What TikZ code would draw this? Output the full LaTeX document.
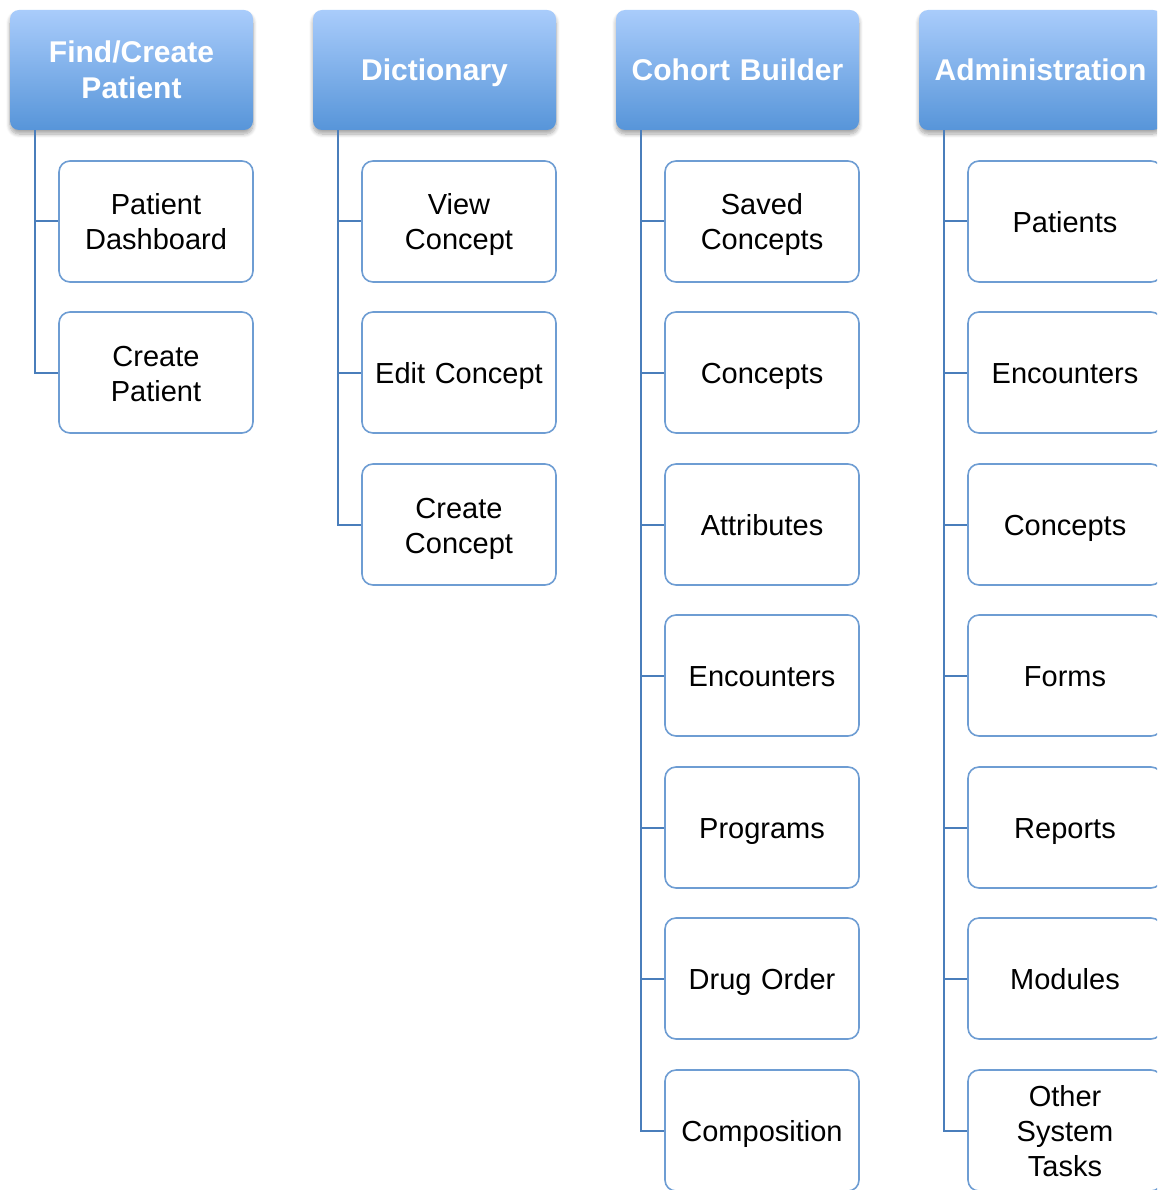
\documentclass[tikz,border=0pt]{standalone}
\usepackage{fontspec}
\setmainfont{Liberation Sans}
\usetikzlibrary{shadows.blur}
\definecolor{hTop}{HTML}{A9CCFB}
\definecolor{hBot}{HTML}{5795D9}
\definecolor{cBorder}{HTML}{6E9DD3}
\definecolor{cLine}{HTML}{4A7EBB}
\newcommand{\mystrut}{\rule[-6.5pt]{0pt}{35pt}}
\tikzset{
  header/.style={rounded corners=9pt, top color=hTop, bottom color=hBot, draw=none,
    minimum width=243pt, minimum height=120pt, inner sep=0pt, text width=236pt, align=center,
    text=white, font=\fontsize{30}{36}\selectfont\bfseries,
    execute at begin node=\mystrut, execute at end node=\mystrut,
    blur shadow={shadow xshift=0pt, shadow yshift=-4pt, shadow opacity=35, shadow blur steps=8, shadow blur radius=4pt}},
  child/.style={rounded corners=11pt, draw=cBorder, line width=1.6pt, fill=white,
    minimum width=194pt, minimum height=121pt, inner sep=0pt, text width=190pt, align=center,
    font=\fontsize{29}{35}\selectfont,
    execute at begin node=\mystrut, execute at end node=\mystrut},
  conn/.style={draw=cLine, line width=2pt}
}
\begin{document}
\begin{tikzpicture}[x=1pt,y=-1pt]
\useasboundingbox (0,0) rectangle (1157,1190);
\clip (0,0) rectangle (1157,1190);
% headers
\node[header] (h1) at (131.5,70) {Find/Create\\Patient};
\node[header] (h2) at (434.5,70) {Dictionary};
\node[header] (h3) at (737.5,70) {Cohort Builder};
\node[header] (h4) at (1040.5,70) {Administration};
% column 1
\node[child] (a1) at (156,221.5) {Patient\\Dashboard};
\node[child] (a2) at (156,372.5) {Create\\Patient};
% column 2
\node[child] (b1) at (459,221.5) {View\\Concept};
\node[child] (b2) at (459,372.5) {Edit Concept};
\node[child] (b3) at (459,524.5) {Create\\Concept};
% column 3
\node[child] (c1) at (762,221.5) {Saved\\Concepts};
\node[child] (c2) at (762,372.5) {Concepts};
\node[child] (c3) at (762,524.5) {Attributes};
\node[child] (c4) at (762,675.5) {Encounters};
\node[child] (c5) at (762,827.5) {Programs};
\node[child] (c6) at (762,978.5) {Drug Order};
\node[child] (c7) at (762,1130.5) {Composition};
% column 4
\node[child] (d1) at (1065,221.5) {Patients};
\node[child] (d2) at (1065,372.5) {Encounters};
\node[child] (d3) at (1065,524.5) {Concepts};
\node[child] (d4) at (1065,675.5) {Forms};
\node[child] (d5) at (1065,827.5) {Reports};
\node[child] (d6) at (1065,978.5) {Modules};
\node[child] (d7) at (1065,1130.5) {Other\\System\\Tasks};
% connectors
\foreach \c in {a1,a2} \draw[conn] ([xshift=25pt]h1.south west) |- (\c.west);
\foreach \c in {b1,b2,b3} \draw[conn] ([xshift=25pt]h2.south west) |- (\c.west);
\foreach \c in {c1,c2,c3,c4,c5,c6,c7} \draw[conn] ([xshift=25pt]h3.south west) |- (\c.west);
\foreach \c in {d1,d2,d3,d4,d5,d6,d7} \draw[conn] ([xshift=25pt]h4.south west) |- (\c.west);
\end{tikzpicture}
\end{document}
